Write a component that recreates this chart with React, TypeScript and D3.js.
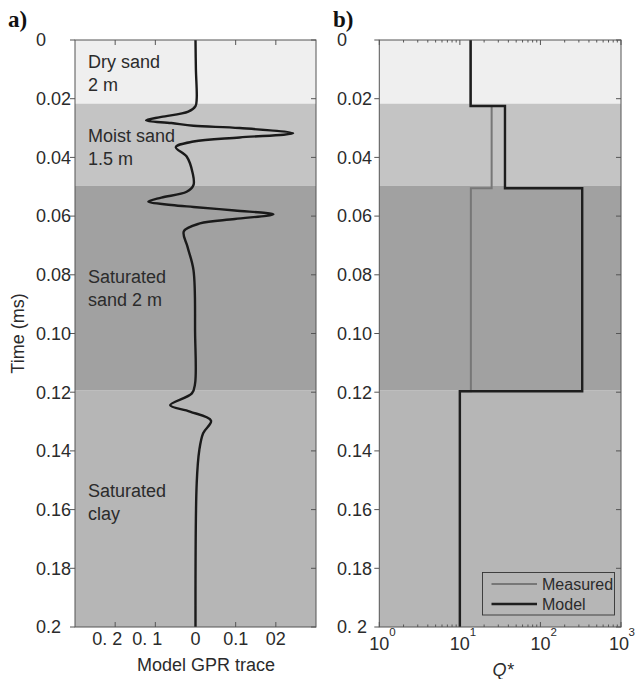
import React from "react";
import * as d3 from "d3";

// Layer boundaries (ms) and fills
const layerTop = [0, 0.0217, 0.0497, 0.1193];
const layerBottom = [0.0217, 0.0497, 0.1193, 0.2];
const layerFill = ["#efefef", "#c4c4c4", "#a1a1a1", "#b6b6b6"];
const layerLabels = [["Dry sand", "2 m"], ["Moist sand", "1.5 m"], ["Saturated", "sand 2 m"], ["Saturated", "clay"]];
const layerLabelTime = [0.0096, 0.0348, 0.0828, 0.1557];

// Model GPR trace
const traceTime = [0, 0.01, 0.02, 0.0225, 0.0244, 0.0262, 0.0274, 0.0283, 0.0292, 0.03, 0.0318, 0.0332, 0.0346, 0.0365,
  0.0397, 0.0454, 0.0494, 0.0517, 0.0537, 0.0551, 0.0562, 0.0569, 0.0581, 0.0594, 0.061, 0.0625, 0.0652, 0.0704,
  0.0784, 0.1, 0.117, 0.1204, 0.1244, 0.1266, 0.1297, 0.134, 0.1397, 0.151, 0.2];
const traceAmp = [0, 0.001, 0.003, 0.0, -0.018, -0.085, -0.123, -0.06, -0.005, 0.11, 0.243, 0.11, -0.005, -0.049,
  -0.022, -0.007, -0.005, -0.022, -0.085, -0.1175, -0.06, -0.005, 0.098, 0.194, 0.098, 0.011, -0.029, -0.02,
  -0.005, -0.001, -0.001, -0.009, -0.063, -0.014, 0.0386, 0.019, 0.0095, 0.003, 0.0];

// Q* step profiles
const qBreaks = [0, 0.0225, 0.0505, 0.1197, 0.2];
const measuredQ = [13.6, 24.8, 13.7, 10];
const modelQ = [13.6, 36.3, 330, 10];

const timeTicks = [0, 0.02, 0.04, 0.06, 0.08, 0.1, 0.12, 0.14, 0.16, 0.18, 0.2];
const timeLabelsA = ["0", "0.02", "0.04", "0.06", "0.08", "0.10", "0.12", "0.14", "0.16", "0.18", "0.2"];
const timeLabelsB = ["0", "0.02", "0.04", "0.06", "0.08", "0.10", "0.12", "0.14", "0.16", "0.18", "0. 2"];
const ampTicks = [-0.2, -0.1, 0, 0.1, 0.2];
const ampLabels = ["0. 2", "0. 1", "0", "0.1", "02"];
const qMajor = [1, 10, 100, 1000];
const qExp = ["0", "1", "2", "3"];

const FONT = "'Liberation Sans', Arial, sans-serif";
const TXT = "#2b2b2b";
const FRAME = "#555";

const top = 40, bottom = 627;
const ax = { l: 75, r: 316 };
const bx = { l: 379.3, r: 621 };

const y = d3.scaleLinear().domain([0, 0.2]).range([top, bottom]);
const xa = d3.scaleLinear().domain([-0.3, 0.3]).range([ax.l, ax.r]);
const xb = d3.scaleLog().domain([1, 1000]).range([bx.l, bx.r]);

const stepPts = (vals: number[]) =>
  vals.flatMap((v, i) => [[v, qBreaks[i]], [v, qBreaks[i + 1]]] as [number, number][]);

const Layers: React.FC<{ x0: number; x1: number }> = ({ x0, x1 }) => (
  <g>
    {layerTop.map((t, i) => (
      <rect key={i} x={x0} y={y(t)} width={x1 - x0} height={y(layerBottom[i]) - y(t)} fill={layerFill[i]} />
    ))}
  </g>
);

const YAxis: React.FC<{ x0: number; x1: number; labels: string[]; lx: number }> = ({ x0, x1, labels, lx }) => (
  <g>
    {timeTicks.map((t, i) => (
      <g key={i}>
        <line x1={x0 - 5} x2={x0} y1={y(t)} y2={y(t)} stroke={FRAME} />
        <line x1={x1 - 5} x2={x1} y1={y(t)} y2={y(t)} stroke={FRAME} />
        <text x={lx} y={y(t)} dy="0.35em" fontSize={18} fill={TXT}>{labels[i]}</text>
      </g>
    ))}
  </g>
);

export default function App() {
  const traceLine = d3.line<number>()
    .x((_, i) => xa(traceAmp[i]))
    .y((t) => y(t))
    .curve(d3.curveCatmullRom.alpha(0.5));

  const stepLine = d3.line<[number, number]>()
    .x((d) => xb(d[0]))
    .y((d) => y(d[1]));

  const minorQ: number[] = [];
  [1, 10, 100].forEach((d) => { for (let k = 2; k <= 9; k++) minorQ.push(d * k); });

  return (
    <svg width={636} height={679} style={{ position: "absolute", left: 0, top: 0, fontFamily: FONT }}>
      <rect width={636} height={679} fill="#fff" />

      {/* panel a */}
      <text x={8} y={27} fontFamily="'Liberation Serif', 'Times New Roman', serif" fontWeight="bold" fontSize={23} fill="#111">a)</text>
      <Layers x0={ax.l} x1={ax.r} />
      {layerLabels.map((lines, i) => (
        <text key={i} x={88} y={y(layerLabelTime[i])} fontSize={18} fill={TXT}>
          {lines.map((s, j) => (
            <tspan key={j} x={88} dy={j === 0 ? 0 : 23}>{s}</tspan>
          ))}
        </text>
      ))}
      {ampTicks.map((v, i) => (
        <g key={i}>
          <line x1={xa(v)} x2={xa(v)} y1={top} y2={top + 5} stroke={FRAME} />
          <line x1={xa(v)} x2={xa(v)} y1={bottom} y2={bottom - 5} stroke={FRAME} />
          <text x={xa(v) + (v < 0 ? -8 : 0)} y={645} textAnchor="middle" fontSize={18} fill={TXT}>{ampLabels[i]}</text>
        </g>
      ))}
      <path d={traceLine(traceTime) || ""} fill="none" stroke="#1a1a1a" strokeWidth={2.4} />
      <rect x={ax.l} y={top} width={ax.r - ax.l} height={bottom - top} fill="none" stroke={FRAME} />
      <YAxis x0={ax.l} x1={ax.r} labels={timeLabelsA} lx={36} />
      <text x={206} y={671} textAnchor="middle" fontSize={18} fill={TXT}>Model GPR trace</text>
      <text transform={`translate(24,${(top + bottom) / 2}) rotate(-90)`} textAnchor="middle" fontSize={18} fill={TXT}>Time (ms)</text>

      {/* panel b */}
      <text x={333} y={27} fontFamily="'Liberation Serif', 'Times New Roman', serif" fontWeight="bold" fontSize={23} fill="#111">b)</text>
      <Layers x0={bx.l} x1={bx.r} />
      {minorQ.map((q, i) => (
        <g key={i}>
          <line x1={xb(q)} x2={xb(q)} y1={top} y2={top + 2.5} stroke={FRAME} />
          <line x1={xb(q)} x2={xb(q)} y1={bottom} y2={bottom - 2.5} stroke={FRAME} />
        </g>
      ))}
      {qMajor.map((q, i) => (
        <g key={i}>
          <line x1={xb(q)} x2={xb(q)} y1={top} y2={top + 5} stroke={FRAME} />
          <line x1={xb(q)} x2={xb(q)} y1={bottom} y2={bottom - 5} stroke={FRAME} />
          <text x={xb(q) - (i === 3 ? 2 : 0)} y={650} textAnchor="middle" fontSize={18} fill={TXT}>10</text>
          <text x={xb(q) + (i === 3 ? 7.5 : 10)} y={636} fontSize={11.5} fill={TXT}>{qExp[i]}</text>
        </g>
      ))}
      <path d={stepLine(stepPts(measuredQ)) || ""} fill="none" stroke="#777" strokeWidth={2} />
      <path d={stepLine(stepPts(modelQ)) || ""} fill="none" stroke="#1e1e1e" strokeWidth={2.4} />
      <rect x={bx.l} y={top} width={bx.r - bx.l} height={bottom - top} fill="none" stroke={FRAME} />
      <YAxis x0={bx.l} x1={bx.r} labels={timeLabelsB} lx={337} />
      <text x={503} y={676} textAnchor="middle" fontSize={18} fontStyle="italic" fill={TXT}>Q*</text>

      {/* legend */}
      <g>
        <rect x={482.5} y={572.5} width={132} height={42.5} fill="none" stroke="#333" strokeWidth={0.9} />
        <line x1={491.5} x2={537} y1={584} y2={584} stroke="#777" strokeWidth={2} />
        <line x1={491.5} x2={537} y1={604} y2={604} stroke="#1e1e1e" strokeWidth={2.4} />
        <text x={542} y={590} fontSize={16} fill={TXT}>Measured</text>
        <text x={542} y={610} fontSize={16} fill={TXT}>Model</text>
      </g>
    </svg>
  );
}
